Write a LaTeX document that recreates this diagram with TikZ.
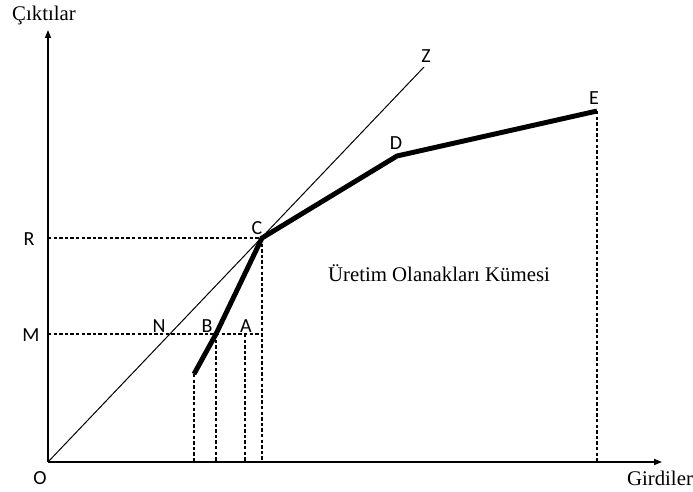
\documentclass[tikz,border=0pt]{standalone}
\usepackage{fontspec}
\setmainfont{Liberation Serif}
\newfontfamily\lblfont{Carlito}
\usetikzlibrary{arrows.meta}
\begin{document}
\begin{tikzpicture}[x=0.75pt,y=-0.75pt,
  axis/.style={line width=1.1pt,-{Triangle[length=6pt,width=4.5pt]}},
  guide/.style={line width=0.8pt,dash pattern=on 2.6pt off 1.6pt},
  frontier/.style={line width=3.7pt,line join=miter},
  ray/.style={line width=0.75pt},
  pt/.style={font=\lblfont\fontsize{15}{17}\selectfont,inner sep=0pt},
  serif/.style={font=\fontsize{15.6}{18}\selectfont,inner sep=0pt}]
\useasboundingbox (0,0) rectangle (693,492);
% coordinates
\coordinate (O) at (48,462);
\coordinate (Ytop) at (48,30);
\coordinate (Xend) at (662,462);
\coordinate (Zend) at (424,67);
\coordinate (P0) at (194,374);
\coordinate (Bp) at (216,334);
\coordinate (Cp) at (262,238);
\coordinate (Dp) at (397,156);
\coordinate (Ep) at (597,111);
\coordinate (Rp) at (48,238);
\coordinate (Mp) at (48,334);
\coordinate (Ap) at (245,334);
\coordinate (CM) at (262,334);
\coordinate (P0x) at (194,462);
\coordinate (Bx) at (216,462);
\coordinate (Ax) at (245,462);
\coordinate (Cx) at (262,462);
\coordinate (Ex) at (597,462);
% dashed guides
\draw[guide] (Rp) -- (Cp);
\draw[guide] (Mp) -- (CM);
\draw[guide] (Cp) -- (Cx);
\draw[guide] (P0) -- (P0x);
\draw[guide] (Bp) -- (Bx);
\draw[guide] (Ap) -- (Ax);
\draw[guide] (Ep) -- (Ex);
% axes
\draw[axis] (O) -- (Ytop);
\draw[axis] (O) -- (Xend);
% ray OZ
\draw[ray] (O) -- (Zend);
% frontier
\draw[frontier] (P0) -- (Bp) -- (Cp) -- (Dp) -- (Ep);
% labels
\node[serif] (ylab) at (44,15) {Çıktılar};
\node[serif] (xlab) at (660,478) {Girdiler};
\node[serif] (set) at (439,273) {Üretim Olanakları Kümesi};
\node[pt] (lO) at (40,478) {O};
\node[pt] (lR) at (29,239) {R};
\node[pt] (lM) at (31,335) {M};
\node[pt] (lN) at (159,326) {N};
\node[pt] (lB) at (207,326) {B};
\node[pt] (lA) at (246,326) {A};
\node[pt] (lC) at (257,228) {C};
\node[pt] (lD) at (396,143) {D};
\node[pt] (lE) at (594,98) {E};
\node[pt] (lZ) at (426,56) {Z};
\end{tikzpicture}
\end{document}
